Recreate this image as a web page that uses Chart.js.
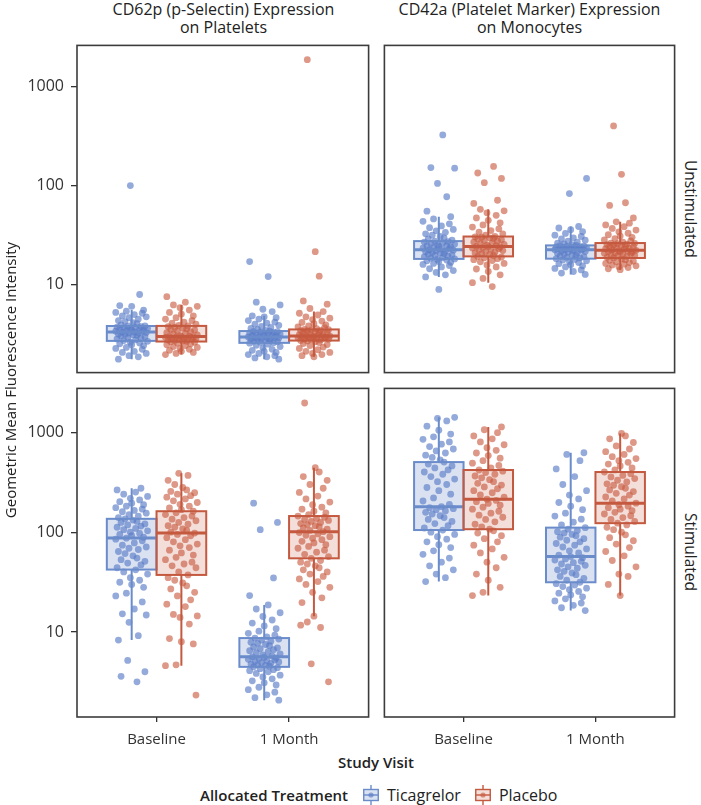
<!DOCTYPE html>
<html>
<head>
<meta charset="utf-8">
<script src="https://cdn.jsdelivr.net/npm/chart.js@4.4.1/dist/chart.umd.min.js"></script>
<style>
  body { margin: 0; width: 701px; height: 805px; position: relative; background: #fff; font-family: "Open Sans", sans-serif; color: #222; overflow: hidden; }
  canvas { position: absolute; }
  .title { position: absolute; top: 0; width: 293px; text-align: center; font-size: 16px; line-height: 18px; color: #222; }
  .strip { position: absolute; left: 684px; width: 18px; height: 330px; writing-mode: vertical-rl; text-align: center; font-size: 15.5px; color: #222; }
  .ytitle { position: absolute; left: -240px; top: 370px; width: 500px; height: 20px; line-height: 20px; text-align: center; transform: rotate(-90deg); font-size: 15px; color: #222; }
  .xtitle { position: absolute; left: 276px; top: 752px; width: 200px; text-align: center; font-size: 15px; font-weight: 600; color: #222; }
  .legend { position: absolute; left: 200px; top: 785px; height: 20px; display: flex; align-items: center; font-size: 16px; color: #222; }
  .legend b { font-weight: 600; font-size: 15px; margin-right: 15px; }
  .legend svg { margin-right: 8px; }
  .legend span { margin-right: 14px; }
</style>
</head>
<body>

<canvas id="c00" width="372" height="334" style="left:0;top:42px"></canvas>
<canvas id="c01" width="297" height="334" style="left:381px;top:42px"></canvas>
<canvas id="c10" width="372" height="366" style="left:0;top:385px"></canvas>
<canvas id="c11" width="297" height="366" style="left:381px;top:385px"></canvas>

<div class="title" style="left:77px">CD62p (p-Selectin) Expression<br>on Platelets</div>
<div class="title" style="left:383px">CD42a (Platelet Marker) Expression<br>on Monocytes</div>
<div class="strip" style="top:44px">Unstimulated</div>
<div class="strip" style="top:387px">Stimulated</div>
<div class="ytitle">Geometric Mean Fluorescence Intensity</div>
<div class="xtitle">Study Visit</div>
<div class="legend" id="legend"></div>

<script>
const visitLabels = ['Baseline', '1 Month'];
const armLabels = ['Ticagrelor', 'Placebo'];
const yTickValues = [10, 100, 1000];

// CD62p, unstimulated
const cd62pUnstimBaseTica = [1.75, 1.85, 1.9, 2.0, 2.05, 2.1, 2.2, 2.25, 2.3, 2.4, 2.45, 2.5, 2.55, 2.6, 2.65,
  2.7, 2.75, 2.8, 2.85, 2.9, 2.95, 3.0, 3.05, 3.1, 3.12, 3.15, 3.2, 3.22, 3.25, 3.28,
  3.3, 3.33, 3.36, 3.4, 3.43, 3.46, 3.5, 3.53, 3.56, 3.6, 3.63, 3.66, 3.7, 3.74, 3.78,
  3.8, 3.9, 4.0, 4.1, 4.2, 4.3, 4.45, 4.6, 4.7, 4.8, 4.95, 5.1, 5.2, 5.35, 5.5,
  6.0, 6.1, 7.9, 100];
const cd62pUnstimBasePlac = [1.95, 2.0, 2.05, 2.1, 2.15, 2.2, 2.25, 2.3, 2.35, 2.4, 2.45, 2.5, 2.55, 2.6, 2.62,
  2.65, 2.68, 2.7, 2.73, 2.76, 2.78, 2.8, 2.83, 2.85, 2.88, 2.9, 2.92, 2.94, 2.95, 2.96,
  2.98, 3.02, 3.08, 3.15, 3.2, 3.25, 3.3, 3.38, 3.45, 3.5, 3.55, 3.6, 3.68, 3.74, 3.8,
  3.85, 3.95, 4.05, 4.15, 4.3, 4.45, 4.6, 4.8, 5.0, 5.2, 5.5, 5.8, 6.0, 6.2,
  6.6, 7.5];
const cd62pUnstimMonthTica = [1.75, 1.8, 1.85, 1.9, 1.95, 2.0, 2.05, 2.1, 2.15, 2.2, 2.28, 2.35, 2.42, 2.48, 2.54,
  2.57, 2.6, 2.63, 2.66, 2.7, 2.72, 2.75, 2.78, 2.8, 2.83, 2.86, 2.88, 2.9, 2.92, 2.94,
  2.96, 2.99, 3.02, 3.05, 3.08, 3.11, 3.14, 3.17, 3.2, 3.23, 3.26, 3.29, 3.32, 3.35, 3.37,
  3.42, 3.5, 3.58, 3.66, 3.75, 3.85, 3.95, 4.05, 4.15, 4.3, 4.45, 4.6, 4.7, 4.8,
  5.3, 5.6, 6.2, 6.6, 12.0, 17.0];
const cd62pUnstimMonthPlac = [1.85, 1.9, 1.95, 2.0, 2.05, 2.1, 2.18, 2.25, 2.32, 2.4, 2.46, 2.52, 2.58, 2.63, 2.68,
  2.71, 2.74, 2.76, 2.79, 2.81, 2.84, 2.86, 2.88, 2.9, 2.92, 2.94, 2.96, 2.97, 2.98, 3.0,
  3.03, 3.06, 3.1, 3.14, 3.18, 3.22, 3.26, 3.3, 3.34, 3.37, 3.4, 3.43, 3.46, 3.48, 3.5,
  3.56, 3.64, 3.72, 3.8, 3.9, 4.0, 4.12, 4.25, 4.4, 4.55, 4.7, 4.9, 5.1, 5.3,
  5.7, 6.3, 6.8, 12.1, 21.4, 1880];

// CD42a, unstimulated
const cd42aUnstimBaseTica = [11.9, 12.5, 13.2, 13.8, 14.4, 15.0, 15.5, 15.9, 16.3, 16.7, 17.0, 17.3, 17.6, 17.9, 18.1,
  18.4, 18.7, 19.0, 19.3, 19.6, 19.9, 20.2, 20.5, 20.8, 21.1, 21.4, 21.7, 22.0, 22.2, 22.4,
  22.7, 23.0, 23.3, 23.6, 23.9, 24.2, 24.5, 24.8, 25.2, 25.6, 26.0, 26.4, 26.8, 27.1, 27.4,
  28.0, 28.8, 29.6, 30.5, 31.5, 32.5, 33.6, 34.8, 36.0, 37.5, 39.0, 41.0, 43.5, 46.0, 48.4,
  8.9, 55, 77, 105, 150, 152, 325];
const cd42aUnstimBasePlac = [10.4, 11.5, 12.5, 13.5, 14.3, 15.0, 15.7, 16.3, 16.9, 17.4, 17.8, 18.2, 18.6, 18.9, 19.2,
  19.6, 20.0, 20.4, 20.8, 21.2, 21.6, 22.0, 22.4, 22.7, 23.0, 23.3, 23.6, 23.9, 24.1, 24.2,
  24.6, 25.0, 25.4, 25.8, 26.3, 26.8, 27.3, 27.8, 28.3, 28.8, 29.2, 29.6, 30.0, 30.3, 30.5,
  31.5, 32.5, 33.8, 35.0, 36.5, 38.0, 40.0, 42.0, 44.5, 47.0, 50.0, 53.0, 55.5, 57.5,
  9.5, 66, 71, 107, 118, 134, 156];
const cd42aUnstimMonthTica = [12.6, 13.0, 13.5, 14.0, 14.5, 15.0, 15.4, 15.8, 16.2, 16.6, 17.0, 17.3, 17.6, 17.9, 18.2,
  18.5, 18.8, 19.1, 19.4, 19.7, 20.0, 20.3, 20.6, 20.9, 21.2, 21.5, 21.8, 22.0, 22.2, 22.4,
  22.55, 22.7, 22.85, 23.0, 23.15, 23.3, 23.45, 23.6, 23.75, 23.9, 24.05, 24.2, 24.4, 24.6, 24.8,
  25.2, 25.7, 26.2, 26.8, 27.4, 28.0, 28.8, 29.6, 30.5, 31.5, 32.8, 34.2, 35.8, 37.2, 38.5,
  83, 118];
const cd42aUnstimMonthPlac = [14.1, 14.4, 14.8, 15.1, 15.4, 15.7, 16.0, 16.3, 16.6, 16.9, 17.2, 17.5, 17.8, 18.1, 18.5,
  18.8, 19.1, 19.4, 19.7, 20.0, 20.3, 20.5, 20.7, 20.9, 21.1, 21.3, 21.5, 21.7, 21.9, 22.1,
  22.4, 22.7, 23.0, 23.3, 23.6, 23.9, 24.2, 24.5, 24.8, 25.0, 25.3, 25.6, 25.8, 26.0, 26.2,
  26.8, 27.5, 28.2, 29.0, 29.9, 30.8, 31.8, 32.9, 34.0, 35.4, 36.8, 38.4, 40.0, 41.6, 43.0,
  47, 63, 67, 130, 401];

// CD62p, stimulated
const cd62pStimBaseTica = [8.3, 9.2, 12.5, 14.8, 15.2, 17.0, 20.0, 23.0, 24.5, 28.0, 30.0, 31.5, 33.0, 35.0, 38.0, 40.0, 42.0,
  44, 47, 49, 51, 53, 55, 58, 61, 64, 67, 69, 71, 74, 78, 82, 85, 87,
  89, 92, 95, 97, 100, 103, 106, 109, 112, 115, 118, 121, 125, 128, 132, 136,
  140, 145, 150, 155, 160, 165, 170, 176, 182, 188, 195, 202, 210, 218, 228, 240, 252, 265, 275,
  5.2, 4.0, 3.6, 3.17];
const cd62pStimBasePlac = [4.6, 4.7, 7.6, 8.0, 8.6, 12.0, 14.0, 14.5, 15.0, 18.0, 19.0, 21.0, 23.0, 25.0, 27.0, 29.0, 31.0, 33.0, 35.0, 37.3,
  40, 44, 46, 48, 50, 53, 56, 59, 62, 66, 70, 73, 76, 80, 84, 88, 92, 95, 97.8,
  100, 104, 108, 112, 116, 120, 125, 130, 135, 140, 145, 150, 156, 162,
  168, 175, 182, 190, 198, 206, 215, 224, 232, 240, 248, 256, 265, 280, 300, 330, 370, 388,
  2.34];
const cd62pStimMonthTica = [2.08, 2.2, 2.35, 2.5, 2.65, 2.8, 2.95, 3.1, 3.25, 3.4, 3.55, 3.7, 3.85, 4.0, 4.1, 4.2, 4.3, 4.4, 4.48,
  4.55, 4.62, 4.7, 4.78, 4.86, 4.94, 5.02, 5.1, 5.18, 5.26, 5.34, 5.42, 5.5, 5.57, 5.64,
  5.75, 5.9, 6.05, 6.2, 6.35, 6.5, 6.65, 6.8, 6.95, 7.1, 7.3, 7.5, 7.7, 7.9, 8.1, 8.3, 8.5, 8.7,
  8.95, 9.3, 9.7, 10.2, 10.8, 11.5, 12.3, 13.2, 14.3, 15.6, 17.0, 18.7,
  23.2, 34.8, 106, 125, 195];
const cd62pStimMonthPlac = [14.4, 19.7, 22, 25, 28, 30, 32, 34, 36, 38, 40, 42, 44, 46, 48, 50, 52, 54.7,
  57, 60, 63, 66, 69, 72, 75, 78, 81, 84, 87, 90, 93, 96, 99, 101,
  104, 107, 110, 113, 116, 119, 122, 125, 128, 131, 134, 137, 141, 145,
  150, 156, 162, 170, 178, 188, 200, 215, 230, 250, 275, 300, 330, 360, 400, 442,
  12.6, 11.7, 11.1, 4.8, 3.17, 1964];

// CD42a, stimulated
const cd42aStimBaseTica = [32, 35, 38, 42, 46, 50, 55, 60, 65, 70, 75, 80, 85, 90, 95, 100, 105,
  110, 116, 122, 128, 134, 140, 146, 152, 158, 163, 168, 172, 176, 180,
  190, 205, 220, 240, 260, 280, 300, 320, 340, 360, 380, 400, 420, 440, 460, 480, 503,
  530, 560, 590, 620, 650, 680, 720, 760, 800, 850, 900, 960, 1050, 1150, 1300, 1380, 1413];
const cd42aStimBasePlac = [23.2, 25, 28, 33, 38, 44, 50, 56, 62, 68, 74, 80, 86, 92, 98, 103, 107,
  113, 120, 127, 134, 141, 148, 155, 162, 170, 178, 186, 194, 202, 208, 214,
  224, 236, 248, 260, 272, 284, 296, 308, 320, 335, 350, 365, 380, 395, 408, 419,
  440, 465, 490, 520, 550, 585, 620, 660, 700, 750, 800, 860, 920, 990, 1060, 1132];
const cd42aStimMonthTica = [16.4, 17.5, 18.5, 19.5, 20.5, 21.5, 22.5, 23.5, 24.5, 25.5, 26.5, 27.5, 28.5, 29.5, 30.5, 31.5,
  33, 34.5, 36, 37.5, 39, 40.5, 42, 43.5, 45, 46.5, 48, 49.5, 51, 52.5, 54, 55.5, 56.9,
  59, 62, 65, 68, 71, 74, 77, 80, 83, 86, 89, 92, 95, 98, 101, 104, 107, 111,
  118, 126, 135, 145, 155, 168, 182, 198, 215, 235, 260, 300, 360, 430, 520, 600, 624];
const cd42aStimMonthPlac = [23.2, 30, 36, 38, 45, 52, 58, 64, 70, 76, 82, 88, 94, 100, 106, 112, 118, 123,
  128, 134, 140, 146, 152, 158, 164, 170, 176, 182, 188, 195,
  205, 215, 225, 235, 245, 255, 265, 275, 285, 295, 305, 318, 331, 344, 357, 370, 385, 400,
  420, 440, 460, 480, 500, 520, 545, 570, 600, 640, 680, 730, 790, 860, 920, 973];

// box stats [whiskerLow, q1, median, q3, whiskerHigh]
// order: Baseline-Ticagrelor, Baseline-Placebo, 1 Month-Ticagrelor, 1 Month-Placebo
const cd62pUnstimBoxes = [[1.75, 2.68, 3.3, 3.79, 5.5], [1.95, 2.64, 2.96, 3.8, 6.2], [1.75, 2.56, 2.94, 3.37, 4.8], [1.85, 2.7, 3.0, 3.5, 5.3]];
const cd42aUnstimBoxes = [[11.9, 18.1, 22.4, 27.4, 48.4], [10.4, 19.2, 24.2, 30.5, 57.5], [12.6, 18.2, 22.4, 24.8, 38.5], [14.1, 18.5, 22.1, 26.2, 43]];
const cd62pStimBoxes = [[8.3, 42.2, 87.3, 136, 275], [4.6, 37.3, 97.8, 162, 388], [2.08, 4.48, 5.64, 8.7, 18.7], [14.4, 54.7, 101, 145, 442]];
const cd42aStimBoxes = [[32, 105, 180, 503, 1413], [23.2, 107, 214, 419, 1132], [16.4, 31.5, 56.9, 111, 624], [23.2, 123, 195, 400, 973]];

// layout / style (not data)
const jitter = [-0.10, 0.05, -0.02, 0.11, -0.07, 0.02, 0.08, -0.12, -0.04, 0.09, 0.00, -0.09, 0.06,
  -0.01, 0.12, -0.06, 0.03, -0.11, 0.07, -0.03, 0.10, -0.08, 0.04, 0.01, -0.05];
const dodge = [-0.1875, 0.1875];
const halfBox = 0.1875;
const strokeColors = ['#6a8ccb', '#c4593f'];
const fillColors = ['rgba(106,140,203,0.25)', 'rgba(196,89,63,0.2)'];
const pointColors = ['rgba(90,125,200,0.65)', 'rgba(200,88,62,0.62)'];
const fontFamily = '"Open Sans", sans-serif';

function boxPlugin(boxes) {
  function geom(chart, k) {
    const x = chart.scales.x, y = chart.scales.y;
    const v = Math.floor(k / 2), a = k % 2;
    const cx = x.getPixelForValue(v + 1 + dodge[a]);
    const hw = x.getPixelForValue(1 + halfBox) - x.getPixelForValue(1);
    const p = boxes[k].map(val => y.getPixelForValue(val));
    return { a, cx, hw, p };
  }
  return {
    id: 'boxes',
    beforeDatasetsDraw(chart) {
      const ctx = chart.ctx;
      boxes.forEach((b, k) => {
        const g = geom(chart, k);
        ctx.fillStyle = fillColors[g.a];
        ctx.fillRect(g.cx - g.hw, g.p[3], g.hw * 2, g.p[1] - g.p[3]);
      });
    },
    afterDatasetsDraw(chart) {
      const ctx = chart.ctx;
      ctx.save();
      boxes.forEach((b, k) => {
        const g = geom(chart, k);
        ctx.strokeStyle = strokeColors[g.a];
        ctx.lineWidth = 2;
        ctx.strokeRect(g.cx - g.hw, g.p[3], g.hw * 2, g.p[1] - g.p[3]);
        ctx.beginPath();
        ctx.moveTo(g.cx, g.p[3]); ctx.lineTo(g.cx, g.p[4]);
        ctx.moveTo(g.cx, g.p[1]); ctx.lineTo(g.cx, g.p[0]);
        ctx.stroke();
        ctx.lineWidth = 3;
        ctx.beginPath();
        ctx.moveTo(g.cx - g.hw, g.p[2]); ctx.lineTo(g.cx + g.hw, g.p[2]);
        ctx.stroke();
      });
      ctx.restore();
    }
  };
}

const panelBorder = {
  id: 'panelBorder',
  afterDraw(chart) {
    const { left, top, right, bottom } = chart.chartArea;
    const ctx = chart.ctx;
    ctx.save();
    ctx.strokeStyle = '#3c3c3c';
    ctx.lineWidth = 1.6;
    ctx.strokeRect(left, top, right - left, bottom - top);
    ctx.restore();
  }
};

function zeroPad(s) {
  s.paddingTop = 0; s.paddingBottom = 0; s.paddingLeft = 0; s.paddingRight = 0;
}

function buildChart(id, groups, boxes, yMin, yMax, leftCol, bottomRow) {
  const datasets = armLabels.map((arm, a) => {
    const data = [];
    [0, 1].forEach(v => {
      groups[v * 2 + a].forEach((val, i) => {
        const j = jitter[(i + a * 7 + v * 3) % jitter.length];
        data.push({ x: v + 1 + dodge[a] + j, y: val });
      });
    });
    return {
      label: arm,
      data,
      backgroundColor: pointColors[a],
      borderWidth: 0,
      pointRadius: 3.4,
      pointHoverRadius: 3.4
    };
  });

  return new Chart(document.getElementById(id), {
    type: 'scatter',
    data: { datasets },
    options: {
      responsive: false,
      animation: false,
      events: [],
      layout: { padding: { top: 2, bottom: bottomRow ? 0 : 2, left: leftCol ? 0 : 2, right: 2 } },
      plugins: { legend: { display: false }, tooltip: { enabled: false } },
      scales: {
        x: {
          type: 'linear',
          min: 0.4,
          max: 2.6,
          display: bottomRow,
          afterBuildTicks: s => { s.ticks = [{ value: 1 }, { value: 2 }]; },
          afterFit: s => { zeroPad(s); s.height = bottomRow ? 34 : 0; },
          grid: { drawOnChartArea: false, drawTicks: true, tickLength: 5, color: '#333', lineWidth: 1.3 },
          border: { display: false },
          ticks: {
            padding: 9,
            color: '#333',
            font: { family: fontFamily, size: 15 },
            callback: v => visitLabels[v - 1]
          }
        },
        y: {
          type: 'logarithmic',
          min: yMin,
          max: yMax,
          display: leftCol,
          afterBuildTicks: s => { s.ticks = yTickValues.map(v => ({ value: v })); },
          afterFit: s => { zeroPad(s); s.width = leftCol ? 77 : 0; },
          grid: { drawOnChartArea: false, drawTicks: true, tickLength: 6, color: '#333', lineWidth: 1.3 },
          border: { display: false },
          ticks: {
            padding: 7,
            color: '#333',
            font: { family: fontFamily, size: 16 },
            callback: v => String(v)
          }
        }
      }
    },
    plugins: [boxPlugin(boxes), panelBorder]
  });
}

buildChart('c00', [cd62pUnstimBaseTica, cd62pUnstimBasePlac, cd62pUnstimMonthTica, cd62pUnstimMonthPlac], cd62pUnstimBoxes, 1.28, 2620, true, false);
buildChart('c01', [cd42aUnstimBaseTica, cd42aUnstimBasePlac, cd42aUnstimMonthTica, cd42aUnstimMonthPlac], cd42aUnstimBoxes, 1.28, 2620, false, false);
buildChart('c10', [cd62pStimBaseTica, cd62pStimBasePlac, cd62pStimMonthTica, cd62pStimMonthPlac], cd62pStimBoxes, 1.41, 2750, true, true);
buildChart('c11', [cd42aStimBaseTica, cd42aStimBasePlac, cd42aStimMonthTica, cd42aStimMonthPlac], cd42aStimBoxes, 1.41, 2750, false, true);

// legend with box glyph keys
const legend = document.getElementById('legend');
let html = '<b>Allocated Treatment</b>';
armLabels.forEach((arm, a) => {
  const c = strokeColors[a];
  html += '<svg width="16" height="20" viewBox="0 0 16 20">' +
    '<line x1="8" y1="0" x2="8" y2="20" stroke="' + c + '" stroke-width="1.4"/>' +
    '<rect x="0.75" y="4.5" width="14.5" height="11" fill="#fff" stroke="' + c + '" stroke-width="1.4"/>' +
    '<rect x="0.75" y="4.5" width="14.5" height="11" fill="' + fillColors[a] + '"/>' +
    '<line x1="0.75" y1="10" x2="15.25" y2="10" stroke="' + c + '" stroke-width="1.4"/>' +
    '<circle cx="8" cy="10" r="2.6" fill="' + pointColors[a] + '"/></svg>' +
    '<span>' + arm + '</span>';
});
legend.innerHTML = html;
</script>
</body>
</html>
